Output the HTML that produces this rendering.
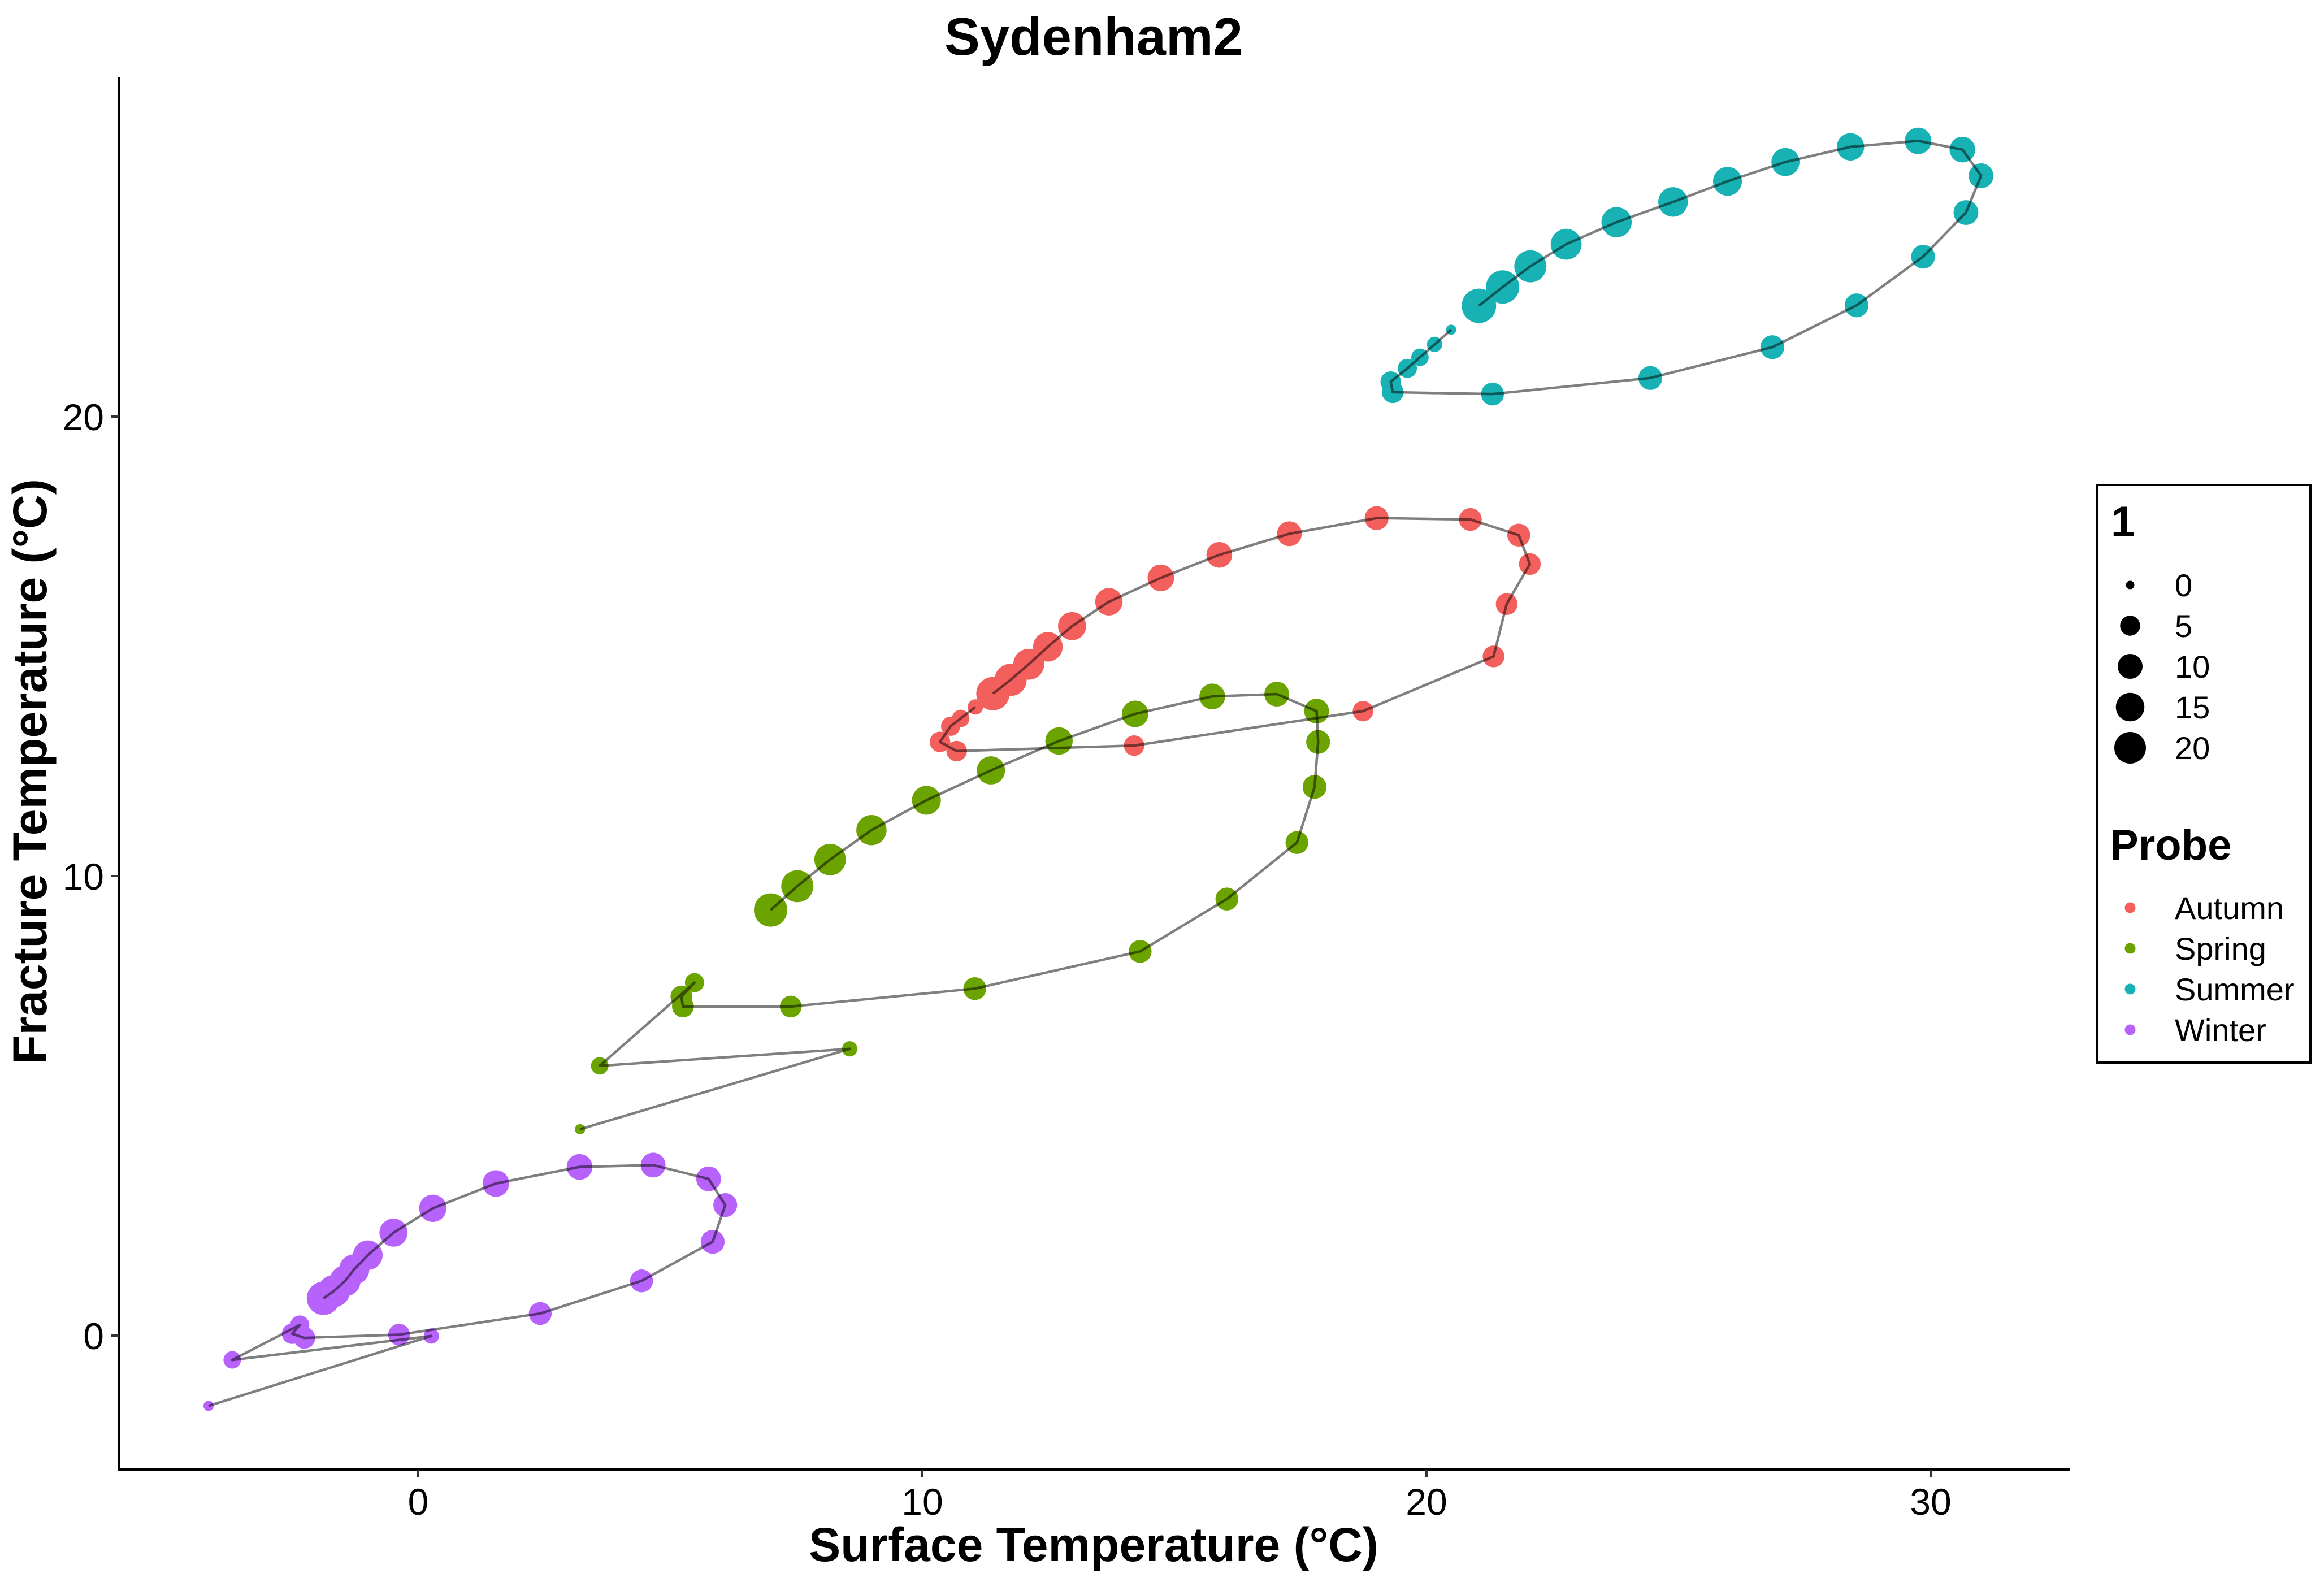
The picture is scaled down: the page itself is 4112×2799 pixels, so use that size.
<!DOCTYPE html>
<html><head><meta charset="utf-8"><style>
html,body{margin:0;padding:0;background:#fff;}
svg{display:block;font-family:"Liberation Sans",Arial,sans-serif;}
</style></head><body>
<svg id="chart" width="4112" height="2799" viewBox="0 0 4112 2799" xmlns="http://www.w3.org/2000/svg">
<rect width="4112" height="2799" fill="#fff"/>
<text x="1935" y="97" font-size="94" font-weight="bold" text-anchor="middle">Sydenham2</text>
<g id="plot"></g>
<line x1="210" y1="136" x2="210" y2="2602" stroke="#000" stroke-width="4"/>
<line x1="208" y1="2600" x2="3663" y2="2600" stroke="#000" stroke-width="4"/>
<g id="xticks"></g>
<g id="yticks"></g>
<text x="1935" y="2762" font-size="84" font-weight="bold" text-anchor="middle">Surface Temperature (°C)</text>
<text transform="translate(82,1365) rotate(-90)" font-size="84" font-weight="bold" text-anchor="middle">Fracture Temperature (°C)</text>
<g>
<rect x="3711" y="858" width="377" height="1022" fill="#fff" stroke="#000" stroke-width="4"/>
<text x="3735" y="949" font-size="76" font-weight="bold">1</text>
<g id="sizeLegend"></g>
<text x="3733" y="1521" font-size="76" font-weight="bold">Probe</text>
<g id="colorLegend"></g>
</g>
</svg>
<script>
const xTicks=[0,10,20,30];
const yTicks=[0,10,20];
const seasons=["Autumn","Spring","Summer","Winter"];
const colors=["#F25F5C","#6BA300","#19B2B4","#B762FB"];
const sizeBreaks=[0,5,10,15,20];

const autumnX=[11.05,10.76,10.56,10.35,10.68,14.20,18.74,21.33,21.59,22.05,21.83,20.87,19.01,17.28,15.89,14.73,13.70,12.97,12.49,12.11,11.75,11.40];
const autumnY=[13.68,13.43,13.26,12.92,12.72,12.84,13.59,14.78,15.92,16.79,17.42,17.76,17.79,17.45,16.99,16.49,15.97,15.44,14.99,14.61,14.27,13.97];
const autumnS=[1,2,3,4,4,4,4,5,5,5,6,6,7,8,9,10,11,12,14,16,18,20];

const springX=[3.21,8.56,3.60,5.48,5.22,5.25,7.39,11.04,14.32,16.04,17.43,17.78,17.85,17.82,17.03,15.75,14.22,12.71,11.36,10.08,8.99,8.17,7.52,6.99];
const springY=[4.49,6.24,5.87,7.68,7.38,7.16,7.16,7.55,8.36,9.50,10.73,11.94,12.92,13.59,13.96,13.91,13.53,12.94,12.30,11.65,11.00,10.36,9.78,9.26];
const springS=[0,1,2,3,5,5,5,6,6,6,6,7,7,8,8,9,10,11,12,13,15,17,18,20];

const summerX=[20.49,20.16,19.87,19.62,19.29,19.33,21.31,24.44,26.86,28.53,29.85,30.70,31.00,30.63,29.75,28.41,27.12,25.97,24.89,23.77,22.77,22.06,21.51,21.04];
const summerY=[21.89,21.57,21.29,21.05,20.76,20.53,20.49,20.84,21.51,22.42,23.48,24.44,25.24,25.81,26.00,25.87,25.54,25.12,24.67,24.23,23.75,23.27,22.82,22.41];
const summerS=[0,1,2,3,4,5,6,7,7,7,7,8,8,9,10,11,12,13,14,15,16,18,20,22];

const winterX=[-4.16,0.26,-3.69,-2.35,-2.50,-2.26,-0.38,2.42,4.43,5.84,6.09,5.76,4.66,3.20,1.54,0.29,-0.49,-1.00,-1.27,-1.45,-1.67,-1.88];
const winterY=[-1.53,-0.01,-0.53,0.23,0.04,-0.05,0.02,0.48,1.19,2.04,2.84,3.41,3.71,3.67,3.31,2.77,2.24,1.75,1.44,1.19,0.97,0.81];
const winterS=[0,1,2,3,4,5,5,6,6,7,7,8,8,9,10,11,12,14,15,16,18,20];

const NS="http://www.w3.org/2000/svg";
function sx(v){return 740+v*89.2;}
function sy(v){return 2363-v*81.3;}
function rad(s){return 7.5+20.5*Math.sqrt(Math.max(0,s)/20);}
function mk(tag,attrs,parent){const e=document.createElementNS(NS,tag);for(const k in attrs)e.setAttribute(k,attrs[k]);parent.appendChild(e);return e;}

const plot=document.getElementById('plot');
const series=[[autumnX,autumnY,autumnS],[springX,springY,springS],[summerX,summerY,summerS],[winterX,winterY,winterS]];
series.forEach((s,i)=>{
  const g=mk('g',{},plot);
  
  
  s[0].forEach((x,j)=>{
    const c=mk('circle',{cx:sx(x),cy:sy(s[1][j]),r:rad(s[2][j])+1.5,fill:colors[i]},g);
    
    
  });
});
series.forEach((s,i)=>{
  const pts=s[0].map((x,j)=>sx(x)+','+sy(s[1][j])).join(' ');
  const p=mk('polyline',{points:pts,fill:'none',stroke:'#000','stroke-opacity':0.5,'stroke-width':4.5,'stroke-linejoin':'round'},plot);
  
  
});

const xt=document.getElementById('xticks');
xTicks.forEach(v=>{
  const l=mk('line',{x1:sx(v),x2:sx(v),y1:2600,y2:2614,stroke:'#333','stroke-width':4},xt);
  
  
  const t=mk('text',{x:sx(v),y:2680,'font-size':66,'text-anchor':'middle'},xt);
  
  
  t.textContent=v;
});
const yt=document.getElementById('yticks');
yTicks.forEach(v=>{
  const l=mk('line',{x1:196,x2:210,y1:sy(v),y2:sy(v),stroke:'#333','stroke-width':4},yt);
  
  
  const t=mk('text',{x:184,y:sy(v)+24,'font-size':66,'text-anchor':'end'},yt);
  
  
  t.textContent=v;
});

const sl=document.getElementById('sizeLegend');
sizeBreaks.forEach((b,i)=>{
  const y=1035+i*72;
  const c=mk('circle',{cx:3769,cy:y,r:rad(b),fill:'#000'},sl);
  
  
  const t=mk('text',{x:3848,y:y+20,'font-size':56},sl);
  
  
  t.textContent=b;
});
const cl=document.getElementById('colorLegend');
seasons.forEach((s,i)=>{
  const y=1606+i*72;
  const c=mk('circle',{cx:3769,cy:y,r:9.5,fill:colors[i]},cl);
  
  
  const t=mk('text',{x:3848,y:y+20,'font-size':56},cl);
  
  
  t.textContent=s;
});
</script>
</body></html>
